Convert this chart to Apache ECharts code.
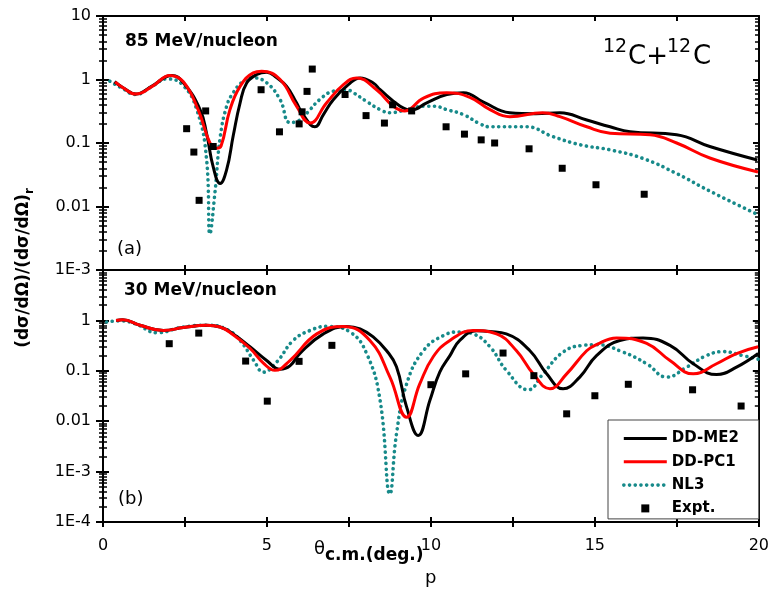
<!DOCTYPE html>
<html>
<head>
<meta charset="utf-8">
<script src="https://cdn.jsdelivr.net/npm/echarts@6/dist/echarts.min.js"></script>
<style>
  html, body { margin: 0; padding: 0; background: #fff; }
  #chart { width: 772px; height: 589px; }
</style>
</head>
<body>
<div id="chart"></div>
<script>
// ---- (a) 85 MeV/nucleon ----
const aMe2X = [0.35, 0.6, 1.0, 1.48, 2.1, 2.45, 2.96, 3.16, 3.36, 3.57, 3.77, 3.97, 4.18, 4.38, 4.69, 4.99, 5.3, 5.6, 5.9, 6.1, 6.46, 6.72, 7.02, 7.48, 7.84, 8.24, 8.45, 9.06, 9.41, 9.87, 10.48, 10.99, 11.6, 12.4, 13.2, 13.93, 14.75, 15.46, 16.07, 17.49, 18.5, 19.95];
const aMe2Y = [0.92, 0.75, 0.59, 0.78, 1.16, 0.89, 0.335, 0.14, 0.042, 0.023, 0.038, 0.13, 0.43, 0.88, 1.2, 1.3, 1.06, 0.78, 0.43, 0.28, 0.18, 0.28, 0.48, 0.83, 1.06, 0.88, 0.69, 0.38, 0.33, 0.43, 0.58, 0.62, 0.44, 0.30, 0.29, 0.30, 0.23, 0.18, 0.15, 0.135, 0.088, 0.054];

const aPc1X = [0.37, 0.6, 1.0, 1.5, 2.04, 2.45, 2.9, 3.26, 3.45, 3.6, 3.87, 4.18, 4.58, 4.84, 5.4, 5.9, 6.31, 6.82, 7.33, 7.73, 8.34, 8.85, 9.2, 9.77, 10.48, 11.2, 11.8, 12.4, 13.4, 13.93, 14.75, 15.46, 16.68, 17.49, 18.5, 19.97];
const aPc1Y = [0.92, 0.75, 0.59, 0.78, 1.16, 0.92, 0.335, 0.1, 0.083, 0.09, 0.335, 0.78, 1.27, 1.35, 1.0, 0.38, 0.206, 0.43, 0.83, 1.06, 0.69, 0.38, 0.32, 0.51, 0.62, 0.52, 0.335, 0.26, 0.30, 0.26, 0.18, 0.143, 0.135, 0.1, 0.058, 0.035];

const aNl3X = [0.21, 0.6, 0.98, 1.5, 1.94, 2.4, 2.86, 3.16, 3.26, 3.41, 3.57, 3.77, 3.97, 4.28, 4.58, 4.99, 5.4, 5.7, 6.0, 6.3, 6.6, 7.0, 7.43, 7.63, 8.04, 8.45, 8.75, 9.26, 9.8, 10.1, 10.48, 10.99, 11.5, 11.8, 12.92, 13.7, 14.54, 15.46, 16.47, 17.49, 18.5, 19.95];
const aNl3Y = [0.94, 0.72, 0.58, 0.78, 1.02, 0.85, 0.335, 0.054, 0.0037, 0.016, 0.12, 0.38, 0.62, 0.94, 1.06, 0.89, 0.48, 0.21, 0.23, 0.33, 0.48, 0.65, 0.69, 0.62, 0.45, 0.335, 0.30, 0.335, 0.38, 0.38, 0.335, 0.28, 0.2, 0.18, 0.18, 0.127, 0.094, 0.078, 0.057, 0.033, 0.0175, 0.0075];

const aExpX = [2.55, 2.77, 2.93, 3.13, 3.36, 4.82, 5.38, 5.98, 6.07, 6.22, 6.38, 7.38, 8.02, 8.58, 8.83, 9.41, 10.46, 11.02, 11.53, 11.94, 12.99, 14.0, 15.03, 16.5];
const aExpY = [0.168, 0.072, 0.0125, 0.32, 0.088, 0.69, 0.15, 0.2, 0.31, 0.65, 1.46, 0.58, 0.27, 0.206, 0.40, 0.32, 0.18, 0.138, 0.112, 0.1, 0.081, 0.04, 0.022, 0.0156];

// ---- (b) 30 MeV/nucleon ----
const bMe2X = [0.4, 0.6, 1.13, 1.84, 2.45, 3.16, 3.57, 3.97, 4.48, 4.99, 5.4, 5.7, 6.0, 6.72, 7.43, 7.84, 8.24, 8.65, 8.95, 9.26, 9.61, 9.97, 10.27, 10.58, 10.88, 11.4, 11.8, 12.3, 13.02, 13.53, 14.03, 14.54, 15.05, 15.76, 16.47, 17.29, 18.0, 18.71, 19.32, 19.98];
const bMe2Y = [1.0, 1.03, 0.8, 0.63, 0.72, 0.8, 0.74, 0.54, 0.30, 0.16, 0.107, 0.125, 0.22, 0.54, 0.76, 0.68, 0.47, 0.25, 0.12, 0.019, 0.0052, 0.026, 0.094, 0.2, 0.4, 0.62, 0.6, 0.54, 0.25, 0.087, 0.044, 0.075, 0.2, 0.4, 0.45, 0.32, 0.138, 0.084, 0.118, 0.22];

const bPc1X = [0.4, 0.6, 1.13, 1.84, 2.45, 3.16, 3.57, 3.97, 4.48, 4.9, 5.24, 5.7, 6.52, 7.33, 8.14, 8.75, 9.26, 9.66, 10.07, 10.58, 11.29, 12.0, 12.61, 13.12, 13.63, 14.14, 14.75, 15.05, 15.66, 16.58, 17.29, 18.0, 18.71, 19.32, 19.98];
const bPc1Y = [1.0, 1.03, 0.8, 0.63, 0.72, 0.8, 0.74, 0.52, 0.28, 0.14, 0.102, 0.16, 0.54, 0.76, 0.4, 0.075, 0.012, 0.055, 0.19, 0.4, 0.63, 0.54, 0.25, 0.087, 0.044, 0.087, 0.25, 0.33, 0.45, 0.35, 0.16, 0.087, 0.138, 0.22, 0.3];

const bNl3X = [0.11, 0.52, 1.0, 1.64, 2.45, 3.26, 3.8, 4.18, 4.6, 4.89, 5.3, 5.8, 6.31, 6.82, 7.53, 8.04, 8.45, 8.75, 8.95, 9.26, 9.77, 10.38, 10.88, 11.29, 11.8, 12.3, 12.97, 13.42, 14.03, 14.64, 15.05, 15.86, 16.58, 17.19, 17.8, 18.4, 18.91, 19.52, 19.98];
const bNl3Y = [0.93, 0.98, 0.85, 0.57, 0.74, 0.8, 0.65, 0.40, 0.16, 0.094, 0.15, 0.4, 0.63, 0.76, 0.59, 0.22, 0.026, 0.00036, 0.0056, 0.055, 0.25, 0.5, 0.59, 0.54, 0.30, 0.102, 0.042, 0.087, 0.235, 0.32, 0.33, 0.235, 0.138, 0.075, 0.118, 0.2, 0.24, 0.2, 0.17];

const bExpX = [2.02, 2.92, 4.35, 5.01, 5.98, 6.98, 10.0, 11.06, 12.2, 13.14, 14.14, 15.0, 16.02, 17.98, 19.46];
const bExpY = [0.345, 0.56, 0.156, 0.025, 0.154, 0.32, 0.053, 0.087, 0.225, 0.08, 0.014, 0.032, 0.054, 0.042, 0.02];

const xTicks = [0, 5, 10, 15, 20];

function pairs(xs, ys) { return xs.map((x, i) => [x, ys[i]]); }

const FONT = 'DejaVu Sans';
const TEAL = '#178a8a';
const NL3_DOTS = [0.1, 5.6];

function logLabel(v) {
  const e = Math.round(Math.log10(v));
  if (e >= 0) return String(Math.pow(10, e));
  if (e >= -2) return Math.pow(10, e).toFixed(-e);
  return '1E' + e;
}

function xAx(grid, pos, opts) {
  return Object.assign({
    type: 'value', gridIndex: grid, position: pos, min: 0, max: 20, interval: 2.5,
    axisLine: { show: true, onZero: false, lineStyle: { color: '#000', width: 2 } },
    axisTick: { show: true, inside: true, length: 5, lineStyle: { color: '#000', width: 2 } },
    axisLabel: { show: false },
    splitLine: { show: false }
  }, opts);
}

function yAx(grid, pos, min, opts) {
  return Object.assign({
    type: 'log', logBase: 10, gridIndex: grid, position: pos, min: min, max: 10, interval: 1,
    axisLine: { show: true, onZero: false, lineStyle: { color: '#000', width: 2 } },
    axisTick: { show: true, inside: true, length: 6, lineStyle: { color: '#000', width: 2 } },
    minorTick: { show: true, splitNumber: 9, length: 4, lineStyle: { color: '#000', width: 1.5 } },
    axisLabel: { show: false },
    splitLine: { show: false }
  }, opts);
}

// left axis carrying the labels, ticks pointing out
const yLabelOpts = (hideTop) => ({
  axisTick: { show: true, inside: false, length: 7, lineStyle: { color: '#000', width: 2 } },
  minorTick: { show: true, splitNumber: 9, length: 4, lineStyle: { color: '#000', width: 1.5 } },
  axisLabel: {
    show: true, margin: 12, color: '#000', fontFamily: FONT, fontSize: 16,
    formatter: v => (hideTop && v >= 9.99) ? '' : logLabel(v)
  }
});

function lineSeries(name, xi, yi, xs, ys) {
  const s = {
    name: name, type: 'line', xAxisIndex: xi, yAxisIndex: yi,
    data: pairs(xs, ys), smooth: 0.45, symbol: 'none', clip: true,
    z: name === 'NL3' ? 2 : (name === 'DD-PC1' ? 4 : 3)
  };
  if (name === 'DD-ME2') {
    s.itemStyle = { color: '#000' };
    s.lineStyle = { color: '#000', width: 3 };
  } else if (name === 'DD-PC1') {
    s.itemStyle = { color: '#ff0000' };
    s.lineStyle = { color: '#ff0000', width: 3 };
  } else {
    s.itemStyle = { color: TEAL };
    s.lineStyle = { color: TEAL, width: 3.6, type: NL3_DOTS, cap: 'round' };
  }
  return s;
}

function expSeries(xi, yi, xs, ys) {
  return {
    name: 'Expt.', type: 'scatter', xAxisIndex: xi, yAxisIndex: yi,
    data: pairs(xs, ys), symbol: 'rect', symbolSize: 7,
    itemStyle: { color: '#000', opacity: 1 }, z: 5
  };
}

const chart = echarts.init(document.getElementById('chart'), null, { renderer: 'canvas' });

chart.setOption({
  animation: false,
  backgroundColor: '#fff',
  grid: [
    { left: 103, top: 16, width: 656, height: 254, containLabel: false },
    { left: 103, top: 270, width: 656, height: 252, containLabel: false }
  ],
  xAxis: [
    xAx(0, 'bottom'),
    xAx(0, 'top'),
    xAx(1, 'bottom', {
      axisLabel: {
        show: true, margin: 16, color: '#000', fontFamily: FONT, fontSize: 16,
        formatter: v => xTicks.indexOf(v) >= 0 ? String(v) : ''
      }
    }),
    xAx(1, 'top'),
    xAx(1, 'bottom', {
      axisTick: { show: true, inside: false, length: 5, lineStyle: { color: '#000', width: 2 } }
    })
  ],
  yAxis: [
    yAx(0, 'left', 0.001, yLabelOpts(false)),
    yAx(0, 'left', 0.001),
    yAx(0, 'right', 0.001),
    yAx(1, 'left', 0.0001, yLabelOpts(true)),
    yAx(1, 'left', 0.0001),
    yAx(1, 'right', 0.0001)
  ],
  legend: {
    orient: 'vertical', left: 608, top: 420,
    padding: [11, 20, 3, 14], itemGap: 8.3,
    itemWidth: 43, itemHeight: 8, symbolKeepAspect: true,
    borderColor: '#444', borderWidth: 1, backgroundColor: '#fff',
    textStyle: { fontFamily: FONT, fontSize: 15, fontWeight: 'bold', color: '#000' },
    data: [
      { name: 'DD-ME2', itemStyle: { opacity: 0 }, lineStyle: { width: 3, color: '#000' } },
      { name: 'DD-PC1', itemStyle: { opacity: 0 }, lineStyle: { width: 3, color: '#ff0000' } },
      { name: 'NL3', itemStyle: { opacity: 0 }, lineStyle: { width: 3.6, color: TEAL, type: NL3_DOTS, cap: 'round' } },
      { name: 'Expt.', icon: 'path://M0,0L10,0L10,10L0,10Z', itemStyle: { color: '#000', opacity: 1 } }
    ]
  },
  graphic: [
    { type: 'text', left: 125, top: 33, style: { text: '85 MeV/nucleon', font: 'bold 17px "DejaVu Sans"', fill: '#000' } },
    { type: 'text', left: 117, top: 240, style: { text: '(a)', font: '18px "DejaVu Sans"', fill: '#000' } },
    { type: 'text', left: 124, top: 282, style: { text: '30 MeV/nucleon', font: 'bold 17px "DejaVu Sans"', fill: '#000' } },
    { type: 'text', left: 118, top: 490, style: { text: '(b)', font: '18px "DejaVu Sans"', fill: '#000' } },
    { type: 'text', left: 603, top: 38, style: { text: '12', font: '19px "DejaVu Sans"', fill: '#000' } },
    { type: 'text', left: 628, top: 44, style: { text: 'C+', font: '26px "DejaVu Sans"', fill: '#000' } },
    { type: 'text', left: 667, top: 38, style: { text: '12', font: '19px "DejaVu Sans"', fill: '#000' } },
    { type: 'text', left: 693, top: 44, style: { text: 'C', font: '26px "DejaVu Sans"', fill: '#000' } },
    {
      type: 'text', x: 24, y: 268, rotation: Math.PI / 2,
      style: {
        text: '{m|(dσ/dΩ)/(dσ/dΩ)}{s|r}',
        align: 'center', verticalAlign: 'middle',
        rich: {
          m: { font: 'bold 17px "DejaVu Sans"', fill: '#000', lineHeight: 24, verticalAlign: 'middle' },
          s: { font: 'bold 12px "DejaVu Sans"', fill: '#000', lineHeight: 12, verticalAlign: 'bottom' }
        }
      }
    },
    {
      type: 'text', x: 314, y: 552,
      style: {
        text: '{t|θ}{s|c.m.(deg.)}',
        align: 'left', verticalAlign: 'middle',
        rich: {
          t: { font: '18px "DejaVu Sans"', fill: '#000', lineHeight: 24, verticalAlign: 'top' },
          s: { font: 'bold 17px "DejaVu Sans"', fill: '#000', lineHeight: 20, verticalAlign: 'bottom' }
        }
      }
    },
    { type: 'text', left: 425, top: 569, style: { text: 'p', font: '18px "DejaVu Sans"', fill: '#000' } }
  ],
  series: [
    lineSeries('NL3', 0, 0, aNl3X, aNl3Y),
    lineSeries('DD-ME2', 0, 0, aMe2X, aMe2Y),
    lineSeries('DD-PC1', 0, 0, aPc1X, aPc1Y),
    expSeries(0, 0, aExpX, aExpY),
    lineSeries('NL3', 2, 3, bNl3X, bNl3Y),
    lineSeries('DD-ME2', 2, 3, bMe2X, bMe2Y),
    lineSeries('DD-PC1', 2, 3, bPc1X, bPc1Y),
    expSeries(2, 3, bExpX, bExpY)
  ]
});
</script>
</body>
</html>
